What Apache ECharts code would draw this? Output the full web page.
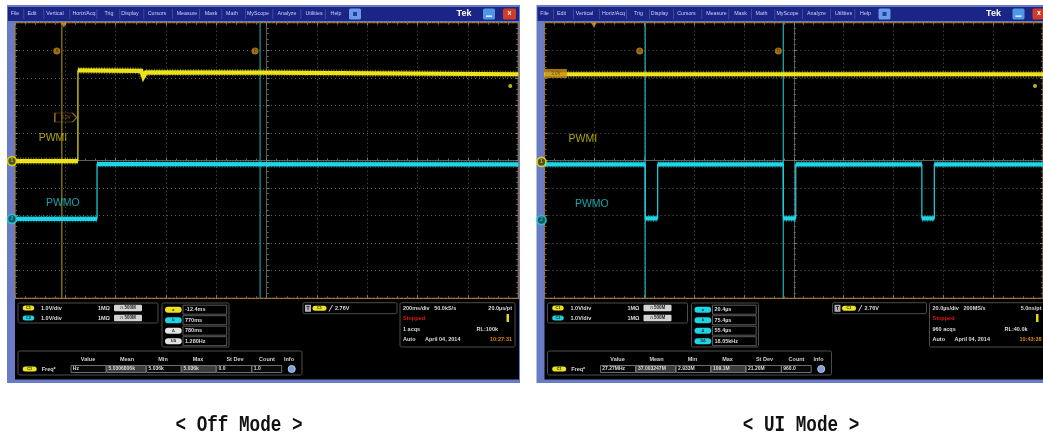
<!DOCTYPE html>
<html><head><meta charset="utf-8">
<script src="https://cdn.jsdelivr.net/npm/echarts@6/dist/echarts.min.js"></script>
<style>html,body{margin:0;padding:0;background:#fff}#c{width:1043px;height:438px}</style>
</head><body><div id="c"></div><script>
// ---- data: traces in screen divisions from the graticule centre (10 x 10 divisions) ----
const offPwmiX = [-5, -3.75, -3.75, -2.49, -2.45, -2.40, 0, 5];
const offPwmiY = [-0.02, -0.02, 3.27, 3.25, 3.03, 3.20, 3.19, 3.13];
const offPwmoX = [-5, -3.37, -3.37, 5];
const offPwmoY = [-2.12, -2.12, -0.13, -0.14];
const uiPwmiX = [-5, 5];
const uiPwmiY = [3.13, 3.13];
const uiPwmoX = [-5, -2.98, -2.98, -2.73, -2.73, -0.21, -0.21, 0.04, 0.04, 2.57, 2.57, 2.82, 2.82, 5];
const uiPwmoY = [-0.14, -0.14, -2.10, -2.10, -0.14, -0.14, -2.10, -2.10, -0.14, -0.14, -2.10, -2.10, -0.14, -0.14];
const offCursorX = [-4.07, -0.13];
const uiCursorX = [-2.98, -0.21];
const offCursorDotX = [-4.17, -0.23];
const uiCursorDotX = [-3.09, -0.31];
const offGroundY = [-0.02, -2.12];
const uiGroundY = [-0.05, -2.16];
const trigLevelY = 2.7;
const channelNames = ['PWMI', 'PWMO'];
const offLabelPos = [[-4.245, 0.82], [-4.05, -1.54]];
const uiLabelPos = [[-4.23, 0.78], [-4.05, -1.58]];
// ---- readout texts ----
const menuItems = ['File','Edit','Vertical','Horiz/Acq','Trig','Display','Cursors','Measure','Mask','Math','MyScope','Analyze','Utilities','Help'];
const measHeaders = ['Value','Mean','Min','Max','St Dev','Count','Info'];
const offReadouts = ['-12.4ms', '770ms', '780ms', '1.280Hz'];
const uiReadouts = ['20.4µs', '75.4µs', '55.4µs', '18.05kHz'];
const offHoriz = ['200ms/div   50.0kS/s', '20.0µs/pt', '1 acqs', 'RL:100k', '10:27:31'];
const uiHoriz = ['20.0µs/div   200MS/s', '5.0ns/pt', '960 acqs', 'RL:40.0k', '10:43:38'];
const offMeas = ['Hz', '5.0306806k', '5.036k', '5.036k', '0.0', '1.0'];
const uiMeas = ['27.27MHz', '37.003247M', '2.933M', '109.1M', '21.20M', '960.0'];
const captions = ['< Off Mode >', '< UI Mode >'];

const YEL = '#ece31c', CYA = '#1dd5e4';
const scopes = [
  {ox: 0, pwmiX: offPwmiX, pwmiY: offPwmiY, pwmoX: offPwmoX, pwmoY: offPwmoY, cursorX: offCursorX,
   cursorColors: ['#8c7c08', '#1f8c8e'], cursorDotX: offCursorDotX, groundY: offGroundY, trigX: -4.03,
   labelPos: offLabelPos, tag: [-3.99, 1.56], tagFilled: false,
   readouts: offReadouts, readColors: [YEL, CYA, '#e4e4e4', '#e4e4e4'], horiz: offHoriz, meas: offMeas},
  {ox: 529.5, pwmiX: uiPwmiX, pwmiY: uiPwmiY, pwmoX: uiPwmoX, pwmoY: uiPwmoY, cursorX: uiCursorX,
   cursorColors: ['#22a8b0', '#22a8b0'], cursorDotX: uiCursorDotX, groundY: uiGroundY, trigX: -4.01,
   labelPos: uiLabelPos, tag: [-4.77, 3.16], tagFilled: true,
   readouts: uiReadouts, readColors: [CYA, CYA, CYA, CYA], horiz: uiHoriz, meas: uiMeas}
];

const PL = 15, PT = 22.7, PW = 503.3, PH = 275.6;
const grids = [], xAxes = [], yAxes = [], series = [], graphics = [];
const FONT = (s, w) => `${w || 'bold'} ${s}px "Liberation Sans", Arial, sans-serif`;

function axisBase(gi) {
  return {gridIndex: gi, type: 'value', min: -5, max: 5, interval: 1, silent: true,
    axisLabel: {show: false}, axisPointer: {show: false},
    axisTick: {show: true, inside: true, length: 3, lineStyle: {color: '#7a7a7a', width: 1}},
    minorTick: {show: true, splitNumber: 5, length: 2, lineStyle: {color: '#6a6a6a', width: 1}},
    splitLine: {show: false}};
}

scopes.forEach((d, k) => {
  const left = PL + d.ox;
  for (let j = 0; j < 3; j++) {
    grids.push({left, top: PT, width: PW, height: PH, show: j === 0, backgroundColor: '#000',
      borderColor: '#b07a2c', borderWidth: 1.2});
  }
  const g = 3 * k;
  xAxes.push(Object.assign(axisBase(g), {position: 'bottom', axisLine: {show: false, onZero: false},
    splitLine: {show: true, lineStyle: {color: '#5c5c5c', type: [1, 3], width: 1}}}));
  xAxes.push(Object.assign(axisBase(g + 1), {position: 'top', axisLine: {show: false, onZero: false}}));
  xAxes.push(Object.assign(axisBase(g + 2), {position: 'bottom', axisLine: {show: true, onZero: true, lineStyle: {color: '#5a5a5a'}}}));
  yAxes.push(Object.assign(axisBase(g), {position: 'left', axisLine: {show: false, onZero: false},
    splitLine: {show: true, lineStyle: {color: '#5c5c5c', type: [1, 3], width: 1}}}));
  yAxes.push(Object.assign(axisBase(g + 1), {position: 'right', axisLine: {show: false, onZero: false}}));
  yAxes.push(Object.assign(axisBase(g + 2), {position: 'left', axisLine: {show: true, onZero: true, lineStyle: {color: '#5a5a5a'}}}));

  const base = {xAxisIndex: g, yAxisIndex: g, animation: false, silent: true};
  // cursors
  d.cursorX.forEach((cx, i) => series.push(Object.assign({}, base, {type: 'line', symbol: 'none',
    data: [[cx, -5], [cx, 5]], lineStyle: {color: d.cursorColors[i], width: 1.3}, z: 1})));
  // traces
  [[d.pwmiX, d.pwmiY, YEL], [d.pwmoX, d.pwmoY, CYA]].forEach(([xs, ys, col]) => {
    const pts = xs.map((x, i) => [x, ys[i]]);
    series.push(Object.assign({}, base, {type: 'line', symbol: 'none', data: pts,
      lineStyle: {color: col, width: 1.2}, z: 3}));
    const segs = []; let cur = [pts[0]];
    for (let i = 1; i < pts.length; i++) {
      if (pts[i][0] === pts[i - 1][0]) { segs.push(cur); cur = [pts[i]]; } else cur.push(pts[i]);
    }
    segs.push(cur);
    const lines = segs.filter(s => s.length > 1).map(s => ({coords: s}));
    series.push(Object.assign({}, base, {type: 'lines', coordinateSystem: 'cartesian2d', polyline: true,
      data: lines, lineStyle: {color: col, width: 7, type: [1, 1.6], opacity: 0.5}, z: 3}));
    series.push(Object.assign({}, base, {type: 'lines', coordinateSystem: 'cartesian2d', polyline: true,
      data: lines, lineStyle: {color: col, width: 4.2, opacity: 1}, z: 4}));
  });
  // channel ground markers
  series.push(Object.assign({}, base, {type: 'scatter', clip: false, symbol: 'circle', symbolSize: 9,
    symbolOffset: [-3, 0], z: 6,
    data: d.groundY.map((y, i) => ({value: [-5, y], itemStyle: {borderColor: i ? CYA : YEL, color: i ? '#0a4a4a' : '#4a4200'},
      label: {formatter: String(i + 1), color: i ? CYA : YEL}})),
    itemStyle: {borderWidth: 1.8},
    label: {show: true, position: 'inside', fontSize: 5, fontWeight: 'bold'}}));
  // cursor handles
  series.push(Object.assign({}, base, {type: 'scatter', clip: false, symbol: 'circle', symbolSize: 7, z: 6,
    data: d.cursorDotX.map((x, i) => ({value: [x, 3.97], name: i ? 'b' : 'a'})),
    itemStyle: {color: '#c98a14'},
    label: {show: true, position: 'inside', formatter: '{b}', fontSize: 5, color: '#3a2500'}}));
  // trigger position & level
  series.push(Object.assign({}, base, {type: 'scatter', clip: false, symbol: 'triangle', symbolRotate: 180,
    symbolSize: [6, 5], z: 6, data: [[d.trigX, 4.92]], itemStyle: {color: '#e2a020'}}));
  series.push(Object.assign({}, base, {type: 'scatter', clip: false, symbol: 'circle',
    symbolSize: 4, z: 6, data: [[4.84, trigLevelY]], itemStyle: {color: YEL}}));
  // tag box
  series.push(Object.assign({}, base, {type: 'scatter', clip: false,
    symbol: d.tagFilled ? 'rect' : 'path://M0,0 L16,0 L20,5 L16,10 L0,10 Z', symbolSize: [22, 9], z: 6,
    data: [{value: d.tag, name: '3.0V'}],
    itemStyle: d.tagFilled ? {color: '#c8901e'} : {color: 'rgba(0,0,0,0)', borderColor: '#c0802a', borderWidth: 1},
    label: {show: true, position: 'inside', formatter: '{b}', fontSize: 4.5, color: d.tagFilled ? '#4a3000' : '#c0802a'}}));
  // channel labels
  series.push(Object.assign({}, base, {type: 'scatter', clip: false, symbolSize: 1, z: 7,
    data: d.labelPos.map((p, i) => ({value: p, name: channelNames[i], label: {color: i ? '#1cc9d4' : '#d2ca04'}})),
    itemStyle: {color: 'rgba(0,0,0,0)'},
    label: {show: true, position: 'inside', formatter: '{b}', fontSize: 10.5, fontFamily: '"Liberation Sans", Arial, sans-serif'}}));

  // ---- window chrome ----
  const ox = d.ox;
  const R = (x, y, w, h, fill, o) => { o = o || {}; graphics.push({type: 'rect', silent: true, z: o.z == null ? -8 : o.z,
    shape: {x: x + ox, y, width: w, height: h, r: o.r || 0},
    style: {fill, stroke: o.stroke || null, lineWidth: o.lw || 1}}); };
  const T = (x, y, text, o) => { o = o || {}; graphics.push({type: 'text', silent: true, z: -2, x: x + ox, y,
    style: {text, fill: o.c || '#dcdcdc', font: o.font || FONT(5.5),
      align: o.a || 'left', textAlign: o.a || 'left', verticalAlign: 'middle', textVerticalAlign: 'middle'}}); };
  const pill = (x, y, w, h, col, lab) => { R(x, y - h / 2, w, h, col, {r: h / 2, z: -3});
    T(x + w / 2, y, lab, {c: '#222', font: FONT(3.8), a: 'center'}); };
  const box = (x, y, w, h, fill, stroke) => R(x, y, w, h, fill, {stroke, r: 1.5, z: -4, lw: 1});

  R(7, 5, 513, 378, '#6a7bc6', {z: -12});
  R(15, 22, 504, 357.5, '#000', {z: -11});
  R(8, 7, 511, 14, '#1b2586', {z: -10});
  const menuX = [15, 32, 55, 84, 109, 130, 157, 187, 211, 232, 258, 287, 314, 336];
  menuItems.forEach((m, i) => {
    T(menuX[i], 14, m, {c: '#c9d0fb', font: FONT(5.3, 'normal'), a: 'center'});
    if (i < menuItems.length - 1) R((menuX[i] + menuX[i + 1]) / 2, 9, 0.7, 10, '#4b58a8', {z: -9});
  });
  R(349, 8.5, 12, 11, '#6a9ae6', {r: 1.5, z: -9});
  R(353, 12, 4, 4, '#2040a0', {z: -8});
  T(464, 13.5, 'Tek', {c: '#fff', font: FONT(9), a: 'center'});
  R(483, 8.5, 12, 11, '#4d98e6', {r: 1.5, z: -9});
  R(486, 15.5, 6, 1.3, '#fff', {z: -8});
  R(503, 8.5, 13, 11, '#d33b26', {r: 1.5, z: -9});
  T(509.5, 13.5, 'x', {c: '#fff', font: FONT(7), a: 'center'});

  // channel panel
  box(18, 303, 140, 20, '#000', '#4c4c4c');
  [308, 318].forEach((y, i) => {
    pill(22.7, y, 11.5, 5, i ? CYA : YEL, 'C' + (i + 1));
    T(41, y, '1.0V/div');
    T(110, y, '1MΩ', {a: 'right'});
    R(114, y - 3.3, 28, 6.6, '#d2d2d2', {r: 1, z: -4});
    T(128, y, '⎍ 500M', {c: '#222', font: FONT(4.5), a: 'center'});
  });
  // cursor readouts
  box(162, 303, 67, 44, '#000', '#4c4c4c');
  const rl = ['a', 'b', 'Δ', '1/Δ'];
  [309.7, 320.2, 330.7, 341.2].forEach((y, i) => {
    pill(165, y, 16.7, 6, d.readColors[i], rl[i]);
    R(183, y - 4.5, 43.7, 9, '#000', {stroke: '#5a5a5a', z: -4});
    T(185, y, d.readouts[i]);
  });
  // trigger panel
  box(303, 302.7, 94, 11, '#000', '#4c4c4c');
  R(305, 304.8, 6, 7, '#b0b0b0', {z: -4});
  T(308, 308.3, 'T', {c: '#111', font: FONT(5), a: 'center'});
  pill(312.5, 308.3, 14, 5, YEL, 'C1');
  graphics.push({type: 'line', silent: true, z: -3, shape: {x1: 329 + ox, y1: 311.5, x2: 332.5 + ox, y2: 305},
    style: {stroke: '#ddd', lineWidth: 0.9}});
  T(335, 308.3, '2.76V');
  // horizontal / acquisition panel
  box(400, 302.7, 115, 44.3, '#000', '#4c4c4c');
  T(403, 308.3, d.horiz[0]);
  T(512, 308.3, d.horiz[1], {a: 'right'});
  T(403, 318.5, 'Stopped', {c: '#e01818'});
  R(506.5, 314, 2.5, 8, '#e8d800', {z: -4});
  T(403, 329, d.horiz[2]);
  T(498, 329, d.horiz[3], {a: 'right'});
  T(403, 339.5, 'Auto');
  T(425, 339.5, 'April 04, 2014');
  T(512, 339.5, d.horiz[4], {a: 'right', c: '#e08a00'});
  // measurement panel
  box(18, 351, 284, 24, '#000', '#4c4c4c');
  const hx = [88, 127, 163, 198, 235, 267, 289];
  measHeaders.forEach((h, i) => T(hx[i], 359.3, h, {a: 'center', c: '#d0d0d0'}));
  pill(22.7, 369, 14, 5, YEL, 'C1');
  T(41.7, 369, 'Freq*');
  const bx = [[71, 106], [106.7, 146], [146.7, 181], [181.7, 216], [216.7, 251.7], [252, 281.7]];
  bx.forEach((b, i) => {
    R(b[0], 365.5, b[1] - b[0], 7, (i === 1 || i === 3) ? '#3c3c3c' : '#080808', {stroke: '#8a8a8a', lw: 0.8, z: -4});
    T(b[0] + 1.8, 369, d.meas[i], {font: FONT(5)});
  });
  graphics.push({type: 'circle', silent: true, z: -3, shape: {cx: 291.7 + ox, cy: 369, r: 3.6},
    style: {fill: '#7d9fe6', stroke: '#d8d8d8', lineWidth: 0.8}});
});

// captions
[[239, captions[0]], [801, captions[1]]].forEach(([x, t]) => graphics.push({type: 'text', silent: true, x, y: 425,
  scaleX: 0.84, scaleY: 1.08, style: {text: t, fill: '#111', font: 'bold 21px "Liberation Mono", "DejaVu Sans Mono", monospace',
    align: 'center', textAlign: 'center', verticalAlign: 'middle', textVerticalAlign: 'middle'}}));

const chart = echarts.init(document.getElementById('c'), null, {renderer: 'canvas', width: 1043, height: 438});
chart.setOption({
  backgroundColor: '#ffffff',
  animation: false,
  grid: grids, xAxis: xAxes, yAxis: yAxes, series, graphic: {elements: graphics}
});
</script></body></html>
